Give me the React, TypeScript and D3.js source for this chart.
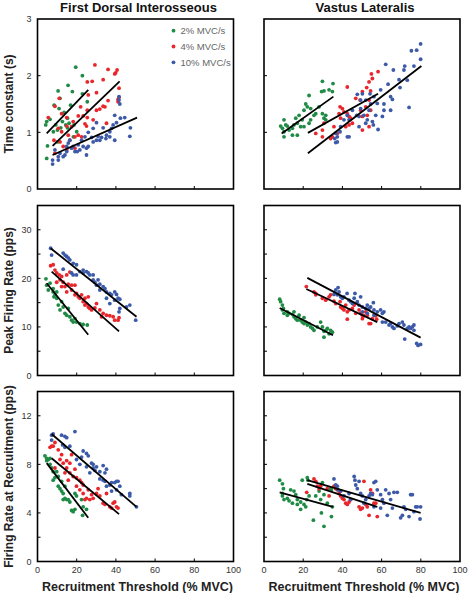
import React from "react";
import * as d3 from "d3";

// ---------- data (x = recruitment threshold % MVC) ----------
const colorNames = ["2% MVC/s", "4% MVC/s", "10% MVC/s"];
const seriesColors = ["#1f8b45", "#e8262c", "#3c5aa8"];
const xTicks = [0, 20, 40, 60, 80, 100];
const panelTitles = ["First Dorsal Interosseous", "Vastus Lateralis"];
const rowLabels = ["Time constant (s)", "Peak Firing Rate (pps)", "Firing Rate at Recruitment (pps)"];
const tauTicks = [0, 1, 2, 3];
const tauLabels = [0, 1, 2, 3];
const peakTicks = [0, 5, 10, 15, 20, 25, 30, 35];
const peakLabels = [0, 10, 20, 30];
const recTicks = [0, 2, 4, 6, 8, 10, 12, 14];
const recLabels = [0, 4, 8, 12];

// FDI time constant
const fdiTau2 = [[19.5,2.15],[22.9,2.0],[15.6,1.83],[10.5,1.73],[17.8,1.72],[8.5,1.48],[11.5,1.6],[22.9,1.68],[25.4,1.54],[16.9,1.48],[11.0,1.42],[13.6,1.35],[4.7,1.19],[6.4,1.23],[4.2,1.13],[9.3,1.13],[12.7,1.19],[15.3,1.25],[16.1,1.16],[10.2,1.04],[11.9,1.08],[8.1,1.01],[18.6,1.13],[20.0,1.01],[5.1,0.76],[4.7,0.54],[10.2,0.83],[18.3,0.92],[15.3,1.08],[14.4,1.13]];
const fdiTau4 = [[29.3,2.19],[36.0,2.11],[40.6,2.1],[39.9,2.05],[39.4,2.03],[25.4,1.89],[27.9,1.9],[33.5,1.93],[11.1,1.6],[25.9,1.66],[30.1,1.7],[36.0,1.56],[41.1,1.58],[41.6,1.78],[41.1,1.54],[22.0,1.45],[25.4,1.39],[31.8,1.41],[34.4,1.45],[33.5,1.46],[8.9,1.46],[5.5,1.26],[12.3,1.33],[14.9,1.26],[18.2,1.19],[20.8,1.29],[23.3,1.29],[25.4,1.26],[25.0,1.11],[10.6,1.07],[12.3,1.01],[14.9,1.11],[17.4,1.1],[20.8,0.95],[19.1,0.92],[22.5,0.92],[8.4,0.86],[11.5,0.83],[15.7,0.95],[16.5,0.86],[8.9,0.63],[14.9,0.69],[13.1,0.75],[24.2,1.15],[35.2,1.16],[28.4,1.22],[30.1,1.39],[19.1,0.72],[41.6,1.62]];
const fdiTau10 = [[41.6,1.63],[41.6,1.57],[42.0,1.5],[39.4,1.3],[42.3,1.25],[44.5,1.26],[47.4,1.08],[47.1,0.93],[40.3,1.17],[38.6,1.13],[37.8,1.07],[36.9,1.01],[35.2,0.95],[34.9,0.89],[32.7,0.91],[31.8,0.86],[30.1,0.86],[28.4,0.83],[27.6,0.91],[25.9,0.75],[25.0,0.72],[23.3,0.75],[21.6,0.69],[20.3,0.66],[18.2,0.75],[17.4,0.72],[15.7,0.81],[14.9,0.66],[14.0,0.6],[13.1,0.57],[11.5,0.63],[10.6,0.57],[8.9,0.69],[7.7,0.51],[7.7,0.44],[10.6,0.51],[19.1,0.66],[22.5,0.86],[24.2,0.92],[25.9,1.0],[28.4,1.07],[30.1,1.17],[30.9,0.93],[33.5,1.08],[36.9,0.92],[39.4,0.86],[25.0,0.6],[20.8,0.78],[16.5,0.86],[14.9,0.75]];
const fdiTauFit2 = [[4.7,0.98],[25.9,1.75]];
const fdiTauFit4 = [[7.7,0.76],[41.9,1.9]];
const fdiTauFit10 = [[7.7,0.6],[50.8,1.26]];

// VL time constant
const vlTau2 = [[29.8,1.9],[35.2,1.86],[30.6,1.73],[33.2,1.75],[34.9,1.72],[29.4,1.72],[23.0,1.65],[21.3,1.5],[20.4,1.39],[22.1,1.45],[23.8,1.42],[26.4,1.33],[29.8,1.33],[30.6,1.25],[31.5,1.3],[25.5,1.3],[17.9,1.3],[16.2,1.25],[17.0,1.16],[18.7,1.1],[14.5,1.07],[12.8,1.04],[11.1,1.13],[10.2,1.22],[9.4,1.07],[10.2,0.92],[14.5,0.95],[17.0,0.95],[20.4,1.1],[23.0,1.16],[15.3,1.13],[11.9,1.11],[19.5,1.22],[23.8,1.22],[8.5,1.11],[10.2,1.01],[28.1,1.45],[31.5,1.22]];
const vlTau4 = [[42.5,1.8],[54.8,2.03],[58.2,2.07],[53.6,1.89],[55.3,1.95],[52.4,1.79],[54.4,1.73],[50.2,1.72],[46.8,1.6],[49.0,1.57],[53.6,1.57],[51.9,1.45],[54.4,1.39],[52.7,1.3],[50.2,1.28],[49.3,1.39],[38.8,1.45],[40.0,1.42],[40.8,1.36],[38.3,1.33],[39.1,1.25],[42.5,1.33],[43.4,1.28],[44.2,1.25],[43.4,1.13],[41.7,1.1],[35.7,1.1],[34.9,0.92],[37.4,0.98],[34.0,0.89],[29.8,0.92],[26.4,0.98],[29.8,1.04],[30.6,1.16],[50.2,1.04],[53.6,1.1],[45.1,1.16]];
const vlTau10 = [[79.9,2.56],[77.9,2.45],[75.2,2.44],[79.9,2.29],[76.5,2.17],[71.8,2.17],[62.1,2.2],[66.0,2.1],[71.4,2.1],[68.9,1.93],[73.1,1.92],[63.3,1.85],[69.4,1.79],[59.5,1.75],[65.5,1.58],[54.1,1.68],[56.1,1.63],[50.2,1.68],[47.6,1.67],[49.3,1.57],[51.9,1.57],[54.4,1.5],[57.8,1.51],[61.2,1.5],[64.6,1.39],[74.0,1.44],[61.2,1.39],[60.4,1.28],[57.0,1.3],[53.6,1.39],[51.0,1.3],[48.5,1.28],[47.3,1.3],[49.3,1.42],[45.1,1.39],[42.5,1.3],[43.4,1.22],[39.1,1.1],[40.8,1.22],[38.8,1.01],[36.6,0.98],[37.4,0.92],[36.1,0.89],[36.6,0.82],[37.4,0.83],[42.5,0.92],[48.5,1.1],[55.3,1.19],[55.8,1.13],[58.2,1.05],[51.9,1.16],[52.7,1.22],[43.4,0.92],[64.6,1.63]];
const vlTauFit2 = [[9.0,0.98],[35.4,1.63]];
const vlTauFit4 = [[22.4,0.99],[58.2,1.68]];
const vlTauFit10 = [[22.4,0.63],[80.3,2.17]];

// FDI peak firing rate
const fdiPeak2 = [[4.3,19.9],[4.7,18.6],[6.4,19.0],[5.5,17.6],[8.0,17.2],[8.9,16.6],[8.4,16.2],[9.8,15.9],[10.6,14.5],[13.1,14.1],[14.0,12.8],[14.9,12.4],[16.5,12.1],[17.4,11.4],[18.2,11.0],[19.9,11.0],[21.6,10.7],[23.3,10.5],[25.4,10.4],[11.5,13.5],[12.3,15.2],[9.8,17.2],[8.0,17.9],[15.7,13.8],[19.1,11.7]];
const fdiPeak4 = [[6.7,22.6],[8.0,22.8],[8.9,21.7],[9.8,21.1],[11.1,20.7],[12.3,20.4],[11.5,19.7],[13.1,19.2],[9.8,19.2],[14.9,20.7],[16.5,21.3],[15.7,18.8],[17.4,18.6],[19.1,18.6],[14.9,17.2],[17.4,17.6],[19.9,16.9],[20.8,16.2],[22.5,16.6],[21.6,15.9],[23.3,15.2],[24.2,14.5],[25.0,14.8],[25.9,14.1],[26.7,13.8],[27.6,13.5],[29.3,13.9],[30.1,14.8],[31.8,13.5],[32.7,12.1],[33.5,12.8],[35.2,12.4],[36.9,12.3],[38.6,12.1],[41.1,11.4],[41.6,11.9],[39.4,11.4],[25.9,16.2],[24.2,15.9],[19.1,16.6],[14.0,18.3],[12.3,18.3]];
const fdiPeak10 = [[6.7,26.2],[7.2,24.8],[13.1,25.2],[14.0,24.8],[14.9,24.5],[15.7,24.2],[16.5,23.8],[18.2,23.1],[13.1,21.9],[17.4,21.1],[18.2,20.7],[19.9,20.7],[21.6,21.4],[23.3,21.1],[25.0,21.4],[25.9,21.1],[26.7,20.7],[28.4,20.7],[28.4,19.7],[29.3,19.2],[30.1,18.6],[31.8,18.8],[33.5,18.3],[34.4,17.9],[35.2,17.2],[36.9,16.9],[37.8,16.6],[39.4,17.2],[40.3,16.7],[41.1,15.9],[42.0,15.7],[39.4,15.5],[42.0,13.8],[41.6,13.1],[45.4,14.1],[47.1,14.5],[50.1,11.4],[36.9,14.8],[35.2,15.9],[31.8,17.6],[30.9,19.7],[23.3,21.7],[19.9,22.8]];
const fdiPeakFit2 = [[4.7,19.0],[25.9,8.4]];
const fdiPeakFit4 = [[7.2,21.4],[41.6,9.1]];
const fdiPeakFit10 = [[6.7,26.2],[50.5,12.1]];

// VL peak firing rate
const vlPeak2 = [[8.0,15.7],[8.5,15.2],[9.4,14.5],[9.9,13.8],[10.2,12.8],[11.9,13.1],[12.8,12.8],[14.5,12.6],[15.3,12.1],[16.2,11.7],[17.0,11.4],[18.7,11.4],[20.4,11.9],[21.3,11.0],[22.1,10.4],[23.0,10.7],[23.8,10.0],[25.5,9.3],[27.2,10.0],[28.9,11.0],[29.8,10.0],[30.6,9.1],[31.5,9.3],[32.3,9.7],[33.2,8.6],[34.0,9.3],[34.9,8.9],[30.6,7.9],[15.3,13.1],[17.9,12.4],[19.5,11.0],[24.7,9.7],[20.4,10.7],[11.9,12.4],[9.4,13.5]];
const vlPeak4 = [[21.6,18.3],[25.5,17.2],[26.4,16.6],[29.8,15.9],[33.2,16.2],[35.7,15.3],[36.6,14.8],[38.8,15.2],[39.1,14.1],[40.0,13.8],[40.8,13.5],[41.7,14.5],[42.5,13.1],[42.5,11.6],[43.4,13.5],[45.1,13.8],[46.0,14.5],[48.5,13.5],[49.3,12.8],[50.2,12.4],[51.0,12.3],[51.9,13.1],[52.7,12.4],[53.6,10.7],[54.4,10.7],[55.3,11.7],[57.0,12.3],[57.5,11.6],[50.2,11.7],[46.8,12.8],[34.0,16.6],[31.5,15.5],[26.4,16.9]];
const vlPeak10 = [[36.6,17.6],[37.8,18.1],[38.3,17.2],[35.7,16.7],[37.4,16.6],[39.1,16.2],[40.0,15.9],[40.8,16.2],[42.4,16.9],[43.4,15.5],[44.2,15.2],[46.0,15.9],[46.4,16.9],[47.6,15.2],[48.5,14.5],[49.3,16.2],[50.2,14.1],[51.9,13.8],[52.7,14.5],[53.6,13.8],[54.4,14.1],[55.8,15.0],[56.1,13.5],[57.8,13.1],[59.5,13.5],[60.4,12.8],[61.2,13.1],[60.4,11.0],[62.1,11.0],[63.8,10.4],[65.5,10.0],[66.3,9.7],[68.0,10.2],[68.9,10.7],[70.6,11.0],[71.4,10.4],[73.1,9.7],[74.0,10.0],[74.8,9.7],[75.7,10.0],[76.5,10.4],[77.9,6.6],[78.6,6.2],[79.9,6.4],[71.8,7.5],[76.5,9.3],[64.6,10.7],[56.1,12.4],[52.7,12.8],[50.2,13.1],[45.1,14.8]];
const vlPeakFit2 = [[8.0,13.9],[35.2,8.3]];
const vlPeakFit4 = [[21.6,17.8],[57.8,11.0]];
const vlPeakFit10 = [[22.1,20.1],[79.9,7.8]];

// FDI firing rate at recruitment
const fdiRec2 = [[3.8,8.7],[4.7,8.5],[5.5,8.4],[6.4,8.5],[4.7,8.3],[6.4,8.0],[7.2,7.7],[8.0,7.4],[8.9,6.9],[8.0,6.7],[10.6,6.2],[11.5,6.0],[12.3,5.8],[13.1,5.6],[13.1,5.1],[14.9,5.1],[14.0,5.2],[16.5,4.9],[17.4,4.2],[18.2,4.1],[19.1,4.3],[15.7,5.1],[19.1,5.6],[19.9,5.4],[22.5,5.1],[23.3,4.5],[25.0,4.3],[23.0,3.8],[14.0,6.2],[10.6,7.0],[9.8,7.4],[12.3,6.6]];
const fdiRec4 = [[6.4,9.4],[7.2,9.5],[8.0,9.5],[8.9,9.8],[10.6,9.2],[12.3,8.8],[11.5,8.4],[13.1,8.1],[14.9,8.3],[16.5,8.1],[17.4,8.8],[14.9,7.7],[14.0,7.3],[16.5,7.3],[18.2,7.0],[19.9,6.9],[21.6,6.7],[22.5,6.5],[23.3,6.3],[19.9,6.2],[21.6,5.9],[23.3,5.6],[24.2,5.1],[25.0,5.2],[26.7,5.1],[28.4,5.2],[27.6,5.5],[30.1,5.6],[31.8,5.4],[33.5,4.8],[34.4,4.7],[36.9,4.5],[37.8,4.4],[38.6,4.8],[40.3,4.5],[41.1,4.4],[39.4,4.9],[35.2,5.6],[30.9,6.0],[25.9,5.9],[19.1,7.6],[15.7,6.7],[8.9,7.7]];
const fdiRec10 = [[7.2,10.4],[8.0,10.5],[7.2,10.0],[12.3,10.4],[14.0,10.3],[14.9,10.2],[12.8,9.6],[14.0,9.4],[16.5,9.5],[19.1,10.7],[19.9,8.4],[22.5,8.6],[23.3,9.1],[25.0,8.9],[25.9,8.7],[27.6,8.1],[28.4,8.0],[28.4,7.7],[29.3,7.5],[30.1,7.8],[31.8,7.4],[33.5,7.9],[34.4,7.3],[35.2,7.6],[33.5,6.7],[34.4,6.6],[36.9,6.3],[37.8,6.5],[39.4,6.5],[40.3,6.6],[41.1,6.6],[40.3,5.9],[42.0,6.2],[42.8,5.5],[47.1,5.6],[47.1,5.4],[50.5,4.5],[37.8,5.8],[35.2,6.2],[31.8,6.8],[26.7,7.3],[25.0,7.8],[21.6,8.0]];
const fdiRecFit2 = [[4.7,8.1],[25.9,3.6]];
const fdiRecFit4 = [[7.2,8.5],[41.6,3.9]];
const fdiRecFit10 = [[7.2,10.5],[50.5,4.5]];

// VL firing rate at recruitment
const vlRec2 = [[8.0,6.7],[9.4,6.4],[9.9,6.0],[9.4,5.6],[9.4,5.4],[10.2,5.1],[11.9,5.2],[12.8,5.0],[13.6,5.9],[15.3,5.8],[16.2,5.5],[17.0,5.1],[17.0,4.7],[18.7,4.3],[19.5,6.7],[20.4,4.7],[21.3,4.5],[21.8,5.1],[22.1,6.9],[22.4,6.7],[23.0,5.4],[25.2,3.4],[26.4,5.4],[28.1,5.8],[28.9,5.1],[29.3,4.0],[29.8,6.5],[30.6,5.5],[30.6,2.9],[32.3,4.8],[34.0,6.0],[34.4,5.9],[34.4,3.7],[34.9,4.5],[14.5,4.8],[18.7,4.9]];
const vlRec4 = [[21.8,5.7],[25.5,6.8],[26.4,6.6],[27.2,6.2],[28.1,6.0],[32.3,6.0],[33.2,5.4],[35.7,6.2],[36.6,6.0],[37.4,5.9],[38.3,5.6],[39.1,5.4],[40.0,5.2],[40.8,5.1],[41.7,4.8],[42.5,4.7],[43.4,4.9],[48.5,4.5],[49.3,4.3],[50.2,4.4],[51.0,6.6],[52.7,4.5],[53.6,3.8],[54.4,5.9],[55.3,5.6],[56.1,4.8],[57.0,4.8],[57.8,3.7],[51.9,4.7],[44.2,5.1],[39.1,5.8],[28.9,6.2]];
const vlRec10 = [[35.7,6.8],[36.6,6.3],[37.4,6.2],[37.8,5.9],[39.1,5.8],[40.8,5.4],[43.4,5.6],[44.2,5.1],[46.0,7.0],[46.4,6.7],[46.8,6.3],[47.6,6.0],[48.5,6.6],[49.3,5.6],[50.2,5.4],[51.0,4.8],[51.9,5.1],[53.6,5.4],[54.4,5.6],[55.3,5.5],[56.1,6.5],[57.0,6.6],[57.8,5.9],[59.5,5.5],[60.4,5.1],[61.2,4.8],[62.1,5.9],[62.9,3.8],[63.8,5.6],[65.5,4.4],[66.3,5.7],[68.0,5.7],[69.7,3.6],[70.6,3.8],[71.4,4.5],[72.3,4.3],[74.0,3.7],[74.8,5.5],[75.7,5.5],[76.5,4.1],[77.4,4.5],[78.2,4.5],[79.6,3.5],[79.9,4.5],[59.5,4.4],[56.1,4.5],[64.6,5.1]];
const vlRecFit2 = [[8.0,5.7],[35.2,4.5]];
const vlRecFit4 = [[22.1,6.4],[57.8,4.5]];
const vlRecFit10 = [[22.1,6.7],[79.9,4.0]];

type Pt = number[];

const rows = [
  { label: rowLabels[0], domain: [0, 3], ticks: tauTicks, labels: tauLabels,
    cols: [
      { pts: [fdiTau2, fdiTau4, fdiTau10], fits: [fdiTauFit2, fdiTauFit4, fdiTauFit10] },
      { pts: [vlTau2, vlTau4, vlTau10], fits: [vlTauFit2, vlTauFit4, vlTauFit10] },
    ] },
  { label: rowLabels[1], domain: [0, 35], ticks: peakTicks, labels: peakLabels,
    cols: [
      { pts: [fdiPeak2, fdiPeak4, fdiPeak10], fits: [fdiPeakFit2, fdiPeakFit4, fdiPeakFit10] },
      { pts: [vlPeak2, vlPeak4, vlPeak10], fits: [vlPeakFit2, vlPeakFit4, vlPeakFit10] },
    ] },
  { label: rowLabels[2], domain: [0, 14], ticks: recTicks, labels: recLabels,
    cols: [
      { pts: [fdiRec2, fdiRec4, fdiRec10], fits: [fdiRecFit2, fdiRecFit4, fdiRecFit10] },
      { pts: [vlRec2, vlRec4, vlRec10], fits: [vlRecFit2, vlRecFit4, vlRecFit10] },
    ] },
];

const W = 468, H = 593;
const colX = [37.5, 264];
const panelW = 196;
const rowY = [19, 205.5, 391.5];
const panelH = 170;
const FONT = "'Liberation Sans', Arial, Helvetica, sans-serif";

export default function App() {
  return (
    <svg width={W} height={H} style={{ position: "absolute", left: 0, top: 0, background: "#fff" }}
      fontFamily={FONT}>
      {panelTitles.map((t, ci) => (
        <text key={t} x={colX[ci] + panelW / 2 + 3} y={11.5} textAnchor="middle"
          fontSize={13} fontWeight="bold" fill="#111">{t}</text>
      ))}
      {rows.map((row, ri) => {
        const y = d3.scaleLinear().domain(row.domain).range([rowY[ri] + panelH, rowY[ri]]);
        const cy = rowY[ri] + panelH / 2;
        return (
          <g key={ri}>
            <text transform={`translate(${13},${cy}) rotate(-90)`} textAnchor="middle"
              fontSize={12} fontWeight="bold" fill="#222">{row.label}</text>
            {row.cols.map((col, ci) => {
              const x = d3.scaleLinear().domain([0, 100]).range([colX[ci], colX[ci] + panelW]);
              const line = d3.line<Pt>().x(d => x(d[0])).y(d => y(d[1]));
              const x0 = colX[ci], y0 = rowY[ri];
              return (
                <g key={ci}>
                  {row.ticks.slice(1, -1).map(t => (
                    <line key={"yt" + t} x1={x0} x2={x0 + 3} y1={y(t)} y2={y(t)} stroke="#000" strokeWidth={1} />
                  ))}
                  {xTicks.slice(1, -1).map(t => (
                    <line key={"xt" + t} x1={x(t)} x2={x(t)} y1={y0 + panelH} y2={y0 + panelH - 3} stroke="#000" strokeWidth={1} />
                  ))}
                  {ci === 0 && row.labels.map(t => (
                    <text key={"yl" + t} x={x0 - 6} y={y(t) + 3.2} textAnchor="end" fontSize={9} fill="#333">{t}</text>
                  ))}
                  {ri === 2 && xTicks.map(t => (
                    <text key={"xl" + t} x={x(t)} y={y0 + panelH + 11} textAnchor="middle" fontSize={9} fill="#333">{t}</text>
                  ))}
                  {col.pts.map((s, si) => (
                    <g key={"s" + si} fill={seriesColors[si]}>
                      {s.map((p, pi) => (
                        <circle key={pi} cx={x(p[0])} cy={y(p[1])} r={1.9} />
                      ))}
                    </g>
                  ))}
                  {col.fits.map((f, fi) => (
                    <path key={"f" + fi} d={line(f) || ""} fill="none" stroke="#000" strokeWidth={1.8} />
                  ))}
                  <rect x={x0} y={y0} width={panelW} height={panelH} fill="none" stroke="#000" strokeWidth={1.6} />
                  {ri === 2 && (
                    <text x={x0 + panelW / 2 + 2} y={y0 + panelH + 29} textAnchor="middle" fontSize={12.5}
                      fontWeight="bold" fill="#222">Recruitment Threshold (% MVC)</text>
                  )}
                  {ri === 0 && ci === 0 && colorNames.map((n, i) => (
                    <g key={n}>
                      <circle cx={173.5} cy={30.7 + i * 15.8} r={1.9} fill={seriesColors[i]} />
                      <text x={180.5} y={30.7 + i * 15.8 + 3.3} fontSize={9.5} fill="#666">{n}</text>
                    </g>
                  ))}
                </g>
              );
            })}
          </g>
        );
      })}
    </svg>
  );
}
